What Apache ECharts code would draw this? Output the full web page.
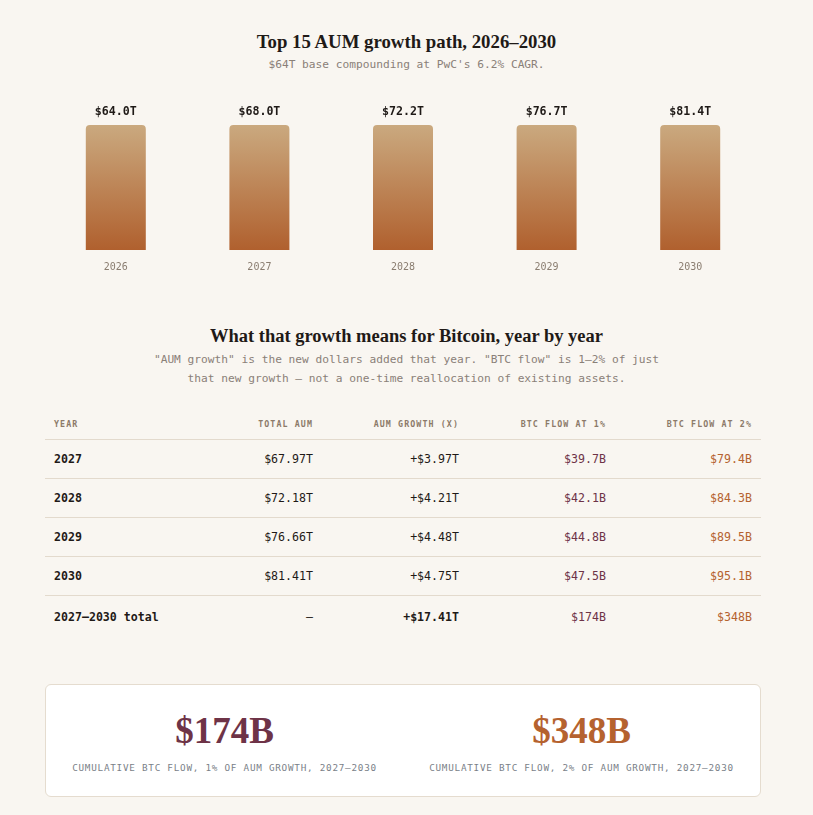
<!DOCTYPE html>
<html>
<head>
<meta charset="utf-8">
<script src="https://cdn.jsdelivr.net/npm/echarts@6/dist/echarts.min.js"></script>
<style>
  html,body{margin:0;padding:0;background:#f9f6f1;}
  body{width:813px;height:815px;position:relative;overflow:hidden;font-family:"DejaVu Sans Mono",monospace;}
  .abs{position:absolute;}
  .serif{font-family:"Liberation Serif","DejaVu Serif",serif;font-weight:bold;color:#1f1a17;}
  .center{left:0;width:813px;text-align:center;}
  .mono{font-family:"DejaVu Sans Mono",monospace;}
  table{border-collapse:collapse;font-family:"DejaVu Sans Mono",monospace;}
  th{font-size:8.3px;letter-spacing:1.1px;color:#8c7a69;font-weight:bold;text-align:right;padding:0 9px;height:31px;border-bottom:1px solid #e3dacd;}
  td{font-size:11.6px;color:#1f1a17;text-align:right;padding:0 9px;height:38px;border-bottom:1px solid #e3dacd;}
  tr:last-child td{border-bottom:none;height:42px;}
  th:first-child,td:first-child{text-align:left;}
  td:first-child{font-weight:bold;}
  .c1{color:#6e3347;}
  .c2{color:#b5622f;}
  .b{font-weight:bold;}
</style>
</head>
<body>
<div class="abs center serif" style="top:31px;font-size:18.8px;">Top 15 AUM growth path, 2026–2030</div>
<div class="abs center mono" style="top:58px;font-size:11.2px;color:#8a8078;">$64T base compounding at PwC's 6.2% CAGR.</div>
<div id="chart" class="abs" style="left:0;top:90px;width:813px;height:200px;"></div>

<div class="abs center serif" style="top:326px;font-size:18.5px;">What that growth means for Bitcoin, year by year</div>
<div class="abs center mono" style="top:350px;font-size:11.2px;line-height:19px;color:#8a8078;">"AUM growth" is the new dollars added that year. "BTC flow" is 1–2% of just<br>that new growth — not a one-time reallocation of existing assets.</div>

<div class="abs" style="left:45px;top:408px;width:716px;">
  <table id="tbl" style="width:716px;"></table>
</div>

<div class="abs" style="left:45px;top:684px;width:714px;height:111px;background:#fff;border:1px solid #e5dccf;border-radius:6px;">
  <div id="big1" class="abs serif" style="left:0;width:357px;top:24px;text-align:center;font-size:37px;color:#6e3347;"></div>
  <div id="cap1" class="abs" style="left:0;width:357px;top:77px;text-align:center;font-size:9.3px;letter-spacing:0.75px;color:#7a7f88;font-family:'DejaVu Sans Mono',monospace;"></div>
  <div id="big2" class="abs serif" style="left:357px;width:357px;top:24px;text-align:center;font-size:37px;color:#b5622f;"></div>
  <div id="cap2" class="abs" style="left:357px;width:357px;top:77px;text-align:center;font-size:9.3px;letter-spacing:0.75px;color:#7a7f88;font-family:'DejaVu Sans Mono',monospace;"></div>
</div>

<script>
// ---- data ----
var barYears = ['2026', '2027', '2028', '2029', '2030'];
var barValues = [64.0, 68.0, 72.2, 76.7, 81.4];

var tableHeaders = ['YEAR', 'TOTAL AUM', 'AUM GROWTH (X)', 'BTC FLOW AT 1%', 'BTC FLOW AT 2%'];
var tableYears = ['2027', '2028', '2029', '2030'];
var totalAum = ['$67.97T', '$72.18T', '$76.66T', '$81.41T'];
var aumGrowth = ['+$3.97T', '+$4.21T', '+$4.48T', '+$4.75T'];
var btcFlow1 = ['$39.7B', '$42.1B', '$44.8B', '$47.5B'];
var btcFlow2 = ['$79.4B', '$84.3B', '$89.5B', '$95.1B'];
var totalRow = ['2027–2030 total', '—', '+$17.41T', '$174B', '$348B'];

var cardValues = ['$174B', '$348B'];
var cardCaptions = ['CUMULATIVE BTC FLOW, 1% OF AUM GROWTH, 2027–2030', 'CUMULATIVE BTC FLOW, 2% OF AUM GROWTH, 2027–2030'];

// ---- table ----
var tbl = document.getElementById('tbl');
var html = '<colgroup><col style="width:131px"><col style="width:146px"><col style="width:146px"><col style="width:147px"><col style="width:146px"></colgroup>';
html += '<tr>' + tableHeaders.map(function(h){return '<th>'+h+'</th>';}).join('') + '</tr>';
for (var i = 0; i < tableYears.length; i++) {
  html += '<tr><td>'+tableYears[i]+'</td><td>'+totalAum[i]+'</td><td>'+aumGrowth[i]+'</td><td class="c1">'+btcFlow1[i]+'</td><td class="c2">'+btcFlow2[i]+'</td></tr>';
}
html += '<tr><td>'+totalRow[0]+'</td><td>'+totalRow[1]+'</td><td class="b">'+totalRow[2]+'</td><td class="c1">'+totalRow[3]+'</td><td class="c2">'+totalRow[4]+'</td></tr>';
tbl.innerHTML = html;

document.getElementById('big1').textContent = cardValues[0];
document.getElementById('big2').textContent = cardValues[1];
document.getElementById('cap1').textContent = cardCaptions[0];
document.getElementById('cap2').textContent = cardCaptions[1];

// ---- chart ----
var chart = echarts.init(document.getElementById('chart'), null, {renderer: 'canvas'});
var gradient = new echarts.graphic.LinearGradient(0, 0, 0, 1, [
  {offset: 0, color: '#caa97f'},
  {offset: 1, color: '#b0602e'}
]);
var yAxes = [], series = [];
barValues.forEach(function(v, i) {
  yAxes.push({type: 'value', min: 0, max: 'dataMax', show: false});
  var d = barValues.map(function(x, j){ return j === i ? x : '-'; });
  series.push({
    type: 'bar',
    yAxisIndex: i,
    data: d,
    barWidth: 60,
    barGap: '-100%',
    itemStyle: {color: gradient, borderRadius: [4, 4, 0, 0]},
    label: {
      show: true, position: 'top', distance: 7,
      fontFamily: 'DejaVu Sans Mono', fontWeight: 'bold', fontSize: 11.6, color: '#1f1a17',
      formatter: function(p){ return '$' + p.value.toFixed(1) + 'T'; }
    },
    silent: true
  });
});
chart.setOption({
  animation: false,
  grid: {left: 44, right: 51, top: 35, bottom: 40},
  xAxis: {
    type: 'category', data: barYears,
    axisLine: {show: false}, axisTick: {show: false},
    axisLabel: {margin: 12, fontFamily: 'DejaVu Sans Mono', fontSize: 10, color: '#8a7d70'}
  },
  yAxis: yAxes,
  series: series
});
</script>
</body>
</html>
